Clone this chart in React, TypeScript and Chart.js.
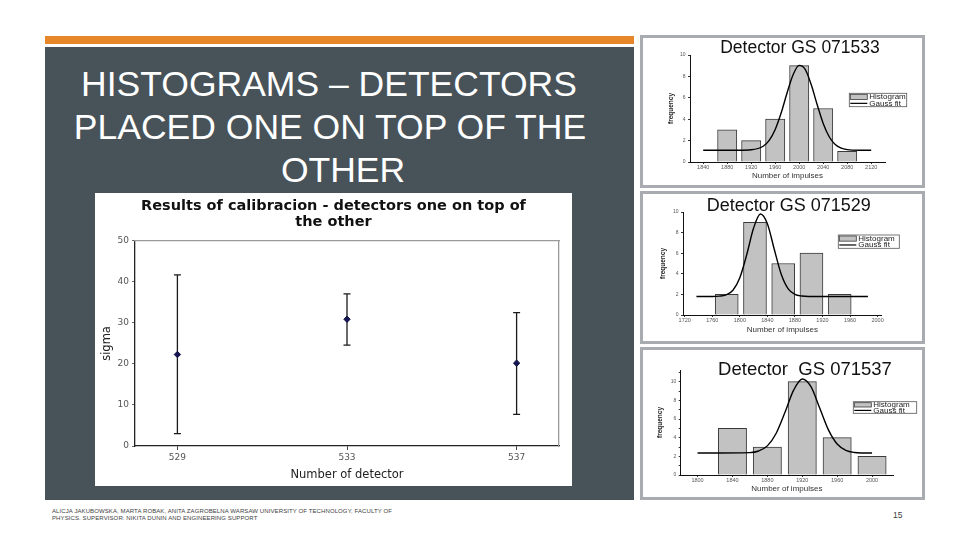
import React, { useEffect, useRef } from "react";
import { Chart, registerables } from "chart.js";

Chart.register(...registerables);

// ---------------- Main chart data ----------------
const mainTitleLines = ["Results of calibracion - detectors one on top of", "the other"];
const detectorNumbers = [529, 533, 537];
const sigmaValues = [22.3, 30.9, 20.2];
const sigmaLower = [3.0, 24.6, 7.7];
const sigmaUpper = [41.7, 37.1, 32.5];
const sigmaTicks = [0, 10, 20, 30, 40, 50];

// ---------------- Histogram 1 (GS 071533) ----------------
const h1Title = "Detector GS 071533";
const h1BinCenters = [1880, 1920, 1960, 2000, 2040, 2080];
const h1Counts = [3, 2, 4, 9, 5, 1];
const h1FitX = [1840, 1900, 1920, 1940, 1950, 1960, 1970, 1980, 1990, 2000, 2010, 2020, 2030, 2040, 2050, 2060, 2070, 2080, 2100, 2120];
const h1FitY = [1.1, 1.1, 1.14, 1.47, 2.02, 3.04, 4.6, 6.5, 8.18, 9.03, 8.66, 7.24, 5.35, 3.6, 2.36, 1.64, 1.3, 1.16, 1.1, 1.1];
const h1XTicks = [1840, 1880, 1920, 1960, 2000, 2040, 2080, 2120];
const h1YTicks = [0, 2, 4, 6, 8, 10];

// ---------------- Histogram 2 (GS 071529) ----------------
const h2Title = "Detector GS 071529";
const h2BinCenters = [1781, 1822, 1863, 1904, 1945];
const h2Counts = [2, 9, 5, 6, 2];
const h2FitX = [1737, 1760, 1770, 1780, 1790, 1800, 1810, 1820, 1830, 1840, 1850, 1860, 1870, 1880, 1890, 1900, 1986];
const h2FitY = [1.8, 1.8, 1.83, 1.95, 2.4, 3.62, 5.85, 8.44, 9.8, 8.86, 6.38, 3.98, 2.56, 2.0, 1.84, 1.8, 1.8];
const h2XTicks = [1720, 1760, 1800, 1840, 1880, 1920, 1960, 2000];
const h2YTicks = [0, 2, 4, 6, 8, 10];

// ---------------- Histogram 3 (GS 071537) ----------------
const h3Title = "Detector  GS 071537";
const h3BinCenters = [1840, 1880, 1920, 1960, 2000];
const h3Counts = [5, 3, 10, 4, 2];
const h3FitX = [1800, 1860, 1870, 1880, 1890, 1900, 1910, 1920, 1930, 1940, 1950, 1960, 1970, 1980, 1990, 2000];
const h3FitY = [2.35, 2.4, 2.57, 3.12, 4.45, 6.67, 9.07, 10.29, 9.46, 7.17, 4.83, 3.32, 2.64, 2.41, 2.36, 2.35];
const h3XTicks = [1800, 1840, 1880, 1920, 1960, 2000];
const h3YTicks = [0, 1, 2, 3, 4, 5, 6, 7, 8, 9, 10, 11];
const h3YLabelled = [0, 2, 4, 6, 8, 10];

const histLabel = "Histogram";
const fitLabel = "Gauss fit";

const SANS = '"Liberation Sans", Arial, sans-serif';
const DEJAVU = '"DejaVu Sans", Verdana, sans-serif';

// ---------------- plugins ----------------
const errorBarPlugin = {
  id: "errorBars",
  beforeDatasetsDraw(chart: any, _a: any, o: any) {
    const { ctx } = chart;
    const xs = chart.scales.x;
    const ys = chart.scales.y;
    const pts = chart.data.datasets[0].data;
    ctx.save();
    ctx.strokeStyle = o.color;
    ctx.lineWidth = o.width;
    pts.forEach((p: any, i: number) => {
      const x = xs.getPixelForValue(p.x);
      const yl = ys.getPixelForValue(o.low[i]);
      const yh = ys.getPixelForValue(o.high[i]);
      ctx.beginPath();
      ctx.moveTo(x, yl);
      ctx.lineTo(x, yh);
      ctx.moveTo(x - o.cap, yl);
      ctx.lineTo(x + o.cap, yl);
      ctx.moveTo(x - o.cap, yh);
      ctx.lineTo(x + o.cap, yh);
      ctx.stroke();
    });
    ctx.restore();
  },
};

const histDecorPlugin = {
  id: "histDecor",
  afterDraw(chart: any, _a: any, o: any) {
    const { ctx } = chart;
    ctx.save();
    ctx.fillStyle = "#111";
    ctx.font = `${o.titleSize}px ${SANS}`;
    ctx.textAlign = "center";
    ctx.textBaseline = "middle";
    ctx.fillText(o.title, o.titleX, o.titleY);
    const L = o.legend;
    const ds = chart.data.datasets;
    const barDs = ds.find((d: any) => d.type === "bar");
    const lineDs = ds.find((d: any) => d.type === "line");
    ctx.strokeStyle = "#555";
    ctx.lineWidth = 0.8;
    ctx.strokeRect(L.x, L.y, L.w, L.h);
    const sw = 17;
    const half = L.h / 2;
    ctx.fillStyle = barDs.backgroundColor;
    ctx.fillRect(L.x + 1, L.y + 1, sw, half - 1.5);
    ctx.strokeStyle = barDs.borderColor;
    ctx.strokeRect(L.x + 1, L.y + 1, sw, half - 1.5);
    ctx.strokeStyle = lineDs.borderColor;
    ctx.lineWidth = 1.2;
    ctx.beginPath();
    ctx.moveTo(L.x + 1, L.y + half + half / 2);
    ctx.lineTo(L.x + 1 + sw, L.y + half + half / 2);
    ctx.stroke();
    ctx.fillStyle = "#222";
    ctx.font = `8px ${SANS}`;
    ctx.textAlign = "left";
    ctx.fillText(barDs.label, L.x + sw + 3, L.y + half / 2 + 0.5);
    ctx.fillText(lineDs.label, L.x + sw + 3, L.y + half + half / 2);
    ctx.restore();
  },
};

// ---------------- configs ----------------
function mainConfig(): any {
  return {
    type: "scatter",
    data: {
      datasets: [
        {
          label: "sigma",
          data: detectorNumbers.map((d, i) => ({ x: d, y: sigmaValues[i] })),
          pointStyle: "rectRot",
          pointRadius: 3.2,
          backgroundColor: "#15154f",
          borderColor: "#15154f",
          borderWidth: 1,
        },
      ],
    },
    plugins: [errorBarPlugin],
    options: {
      animation: false,
      responsive: false,
      devicePixelRatio: 1,
      layout: { padding: 0 },
      plugins: {
        legend: { display: false },
        tooltip: { enabled: false },
        title: {
          display: true,
          text: mainTitleLines,
          color: "#111",
          font: { family: DEJAVU, size: 14.5, weight: "bold", lineHeight: 1.1 },
          padding: { top: 5, bottom: 11 },
        },
        errorBars: { low: sigmaLower, high: sigmaUpper, color: "#1a1a1a", width: 1.3, cap: 3.5 },
      },
      scales: {
        x: {
          type: "linear",
          position: "bottom",
          min: 528,
          max: 538,
          afterBuildTicks: (s: any) => {
            s.ticks = detectorNumbers.map((v) => ({ value: v }));
          },
          afterFit: (s: any) => {
            s.height = 40;
          },
          grid: { drawOnChartArea: false, drawTicks: true, tickLength: 4, color: "#444", lineWidth: 1 },
          border: { display: true, color: "#222", width: 1.3 },
          ticks: { color: "#555", font: { family: DEJAVU, size: 9 }, padding: 2.6, callback: (v: any) => String(v) },
          title: {
            display: true,
            text: "Number of detector",
            color: "#222",
            font: { family: DEJAVU, size: 11.5 },
            padding: { top: 0, bottom: 4.1 },
          },
        },
        y: {
          type: "linear",
          position: "left",
          min: 0,
          max: 50,
          afterBuildTicks: (s: any) => {
            s.ticks = sigmaTicks.map((v) => ({ value: v }));
          },
          afterFit: (s: any) => {
            s.width = 40;
          },
          grid: { drawOnChartArea: false, drawTicks: true, tickLength: 3, color: "#666", lineWidth: 1 },
          border: { display: true, color: "#222", width: 1.3 },
          ticks: { color: "#555", font: { family: DEJAVU, size: 9 }, padding: 3, callback: (v: any) => String(v) },
          title: {
            display: true,
            text: "sigma",
            color: "#222",
            font: { family: DEJAVU, size: 11.5 },
            padding: { top: 5.4, bottom: 0 },
          },
        },
        x2: {
          type: "linear",
          position: "top",
          min: 528,
          max: 538,
          afterFit: (s: any) => {
            s.height = 0;
          },
          grid: { drawOnChartArea: false, drawTicks: false },
          border: { display: true, color: "#9a9a9a", width: 1.3 },
          ticks: { display: false },
        },
        y2: {
          type: "linear",
          position: "right",
          min: 0,
          max: 50,
          afterFit: (s: any) => {
            s.width = 13;
          },
          grid: { drawOnChartArea: false, drawTicks: false },
          border: { display: true, color: "#9a9a9a", width: 1.3 },
          ticks: { display: false },
        },
      },
    },
  };
}

function histConfig(p: any): any {
  return {
    type: "bar",
    data: {
      datasets: [
        {
          type: "line",
          label: fitLabel,
          data: p.fitX.map((x: number, i: number) => ({ x, y: p.fitY[i] })),
          borderColor: "#000",
          borderWidth: 1.4,
          pointRadius: 0,
          cubicInterpolationMode: "monotone",
          fill: false,
          order: 0,
        },
        {
          type: "bar",
          label: histLabel,
          data: p.bins.map((x: number, i: number) => ({ x, y: p.counts[i] })),
          backgroundColor: "#c2c2c2",
          borderColor: "#3a3a3a",
          borderWidth: 1,
          barThickness: p.barPx,
          order: 1,
        },
      ],
    },
    plugins: [histDecorPlugin],
    options: {
      animation: false,
      responsive: false,
      devicePixelRatio: 1,
      layout: { padding: { left: 0, top: p.area.top, right: p.w - p.area.right, bottom: 0 } },
      plugins: {
        legend: { display: false },
        tooltip: { enabled: false },
        title: { display: false },
        histDecor: {
          title: p.title,
          titleX: p.titleX,
          titleY: p.titleY,
          titleSize: p.titleSize,
          legend: p.legend,
        },
      },
      scales: {
        x: {
          type: "linear",
          min: p.xMin,
          max: p.xMax,
          offset: false,
          afterBuildTicks: (s: any) => {
            s.ticks = p.xTicks.map((v: number) => ({ value: v }));
          },
          afterFit: (s: any) => {
            s.height = p.h - p.area.bottom;
          },
          grid: { offset: false, drawOnChartArea: false, drawTicks: true, tickLength: 2, color: "#333" },
          border: { display: true, color: "#111", width: 1 },
          ticks: {
            color: "#555",
            font: { family: SANS, size: 5.5 },
            padding: 0.5,
            maxRotation: 0,
            autoSkip: false,
            callback: (v: any) => String(v),
          },
          title: {
            display: true,
            text: "Number of impulses",
            color: "#333",
            font: { family: SANS, size: 8 },
            padding: { top: 0, bottom: p.xTitlePad },
          },
        },
        y: {
          type: "linear",
          min: 0,
          max: p.yMax,
          afterBuildTicks: (s: any) => {
            s.ticks = p.yTicks.map((v: number) => ({ value: v }));
          },
          afterFit: (s: any) => {
            s.width = p.area.left;
          },
          grid: { drawOnChartArea: false, drawTicks: true, tickLength: 2, color: "#333" },
          border: { display: true, color: "#111", width: 1 },
          ticks: {
            color: "#555",
            font: { family: SANS, size: 5 },
            padding: 2.5,
            autoSkip: false,
            callback: (v: any) => (p.yLabelled.includes(v) ? String(v) : ""),
          },
          title: {
            display: true,
            text: "frequency",
            color: "#222",
            font: { family: SANS, size: 6.5, weight: "bold" },
            padding: { top: p.yTitlePad, bottom: 0 },
          },
        },
      },
    },
  };
}

const HIST_W = 279;
const HIST_H = 147;

const hist1Params = {
  title: h1Title,
  bins: h1BinCenters,
  counts: h1Counts,
  fitX: h1FitX,
  fitY: h1FitY,
  xTicks: h1XTicks,
  yTicks: h1YTicks,
  yLabelled: h1YTicks,
  xMin: 1818,
  xMax: 2143,
  yMax: 10,
  w: HIST_W,
  h: HIST_H,
  area: { left: 47, top: 17, right: 242, bottom: 124 },
  barPx: 19.3,
  titleX: 157,
  titleY: 10,
  titleSize: 17.5,
  legend: { x: 206.3, y: 55.3, w: 57.4, h: 13.4 },
  xTitlePad: 4.5,
  yTitlePad: 24.7,
};

const hist2Params = {
  title: h2Title,
  bins: h2BinCenters,
  counts: h2Counts,
  fitX: h2FitX,
  fitY: h2FitY,
  xTicks: h2XTicks,
  yTicks: h2YTicks,
  yLabelled: h2YTicks,
  xMin: 1717.5,
  xMax: 2006,
  yMax: 10,
  w: HIST_W,
  h: HIST_H,
  area: { left: 40, top: 18, right: 238.7, bottom: 121 },
  barPx: 23,
  titleX: 145.8,
  titleY: 12,
  titleSize: 18,
  legend: { x: 195.3, y: 41, w: 61, h: 13.3 },
  xTitlePad: 6.9,
  yTitlePad: 16.4,
};

const hist3Params = {
  title: h3Title,
  bins: h3BinCenters,
  counts: h3Counts,
  fitX: h3FitX,
  fitY: h3FitY,
  xTicks: h3XTicks,
  yTicks: h3YTicks,
  yLabelled: h3YLabelled,
  xMin: 1780.7,
  xMax: 2024,
  yMax: 11.25,
  w: HIST_W,
  h: HIST_H,
  area: { left: 37.7, top: 20, right: 250, bottom: 125 },
  barPx: 28.3,
  titleX: 162,
  titleY: 20,
  titleSize: 18.5,
  legend: { x: 210.3, y: 51.7, w: 63.4, h: 11.6 },
  xTitlePad: 3.9,
  yTitlePad: 13.1,
};

function ChartCanvas({ make, width, height }: { make: () => any; width: number; height: number }) {
  const ref = useRef<HTMLCanvasElement>(null);
  useEffect(() => {
    const chart = new Chart(ref.current as HTMLCanvasElement, make());
    return () => chart.destroy();
  }, []);
  return (
    <canvas
      ref={ref}
      width={width}
      height={height}
      style={{ position: "absolute", left: 0, top: 0, width, height, display: "block" }}
    />
  );
}

function HistBox({ top, params }: { top: number; params: any }) {
  return (
    <div
      style={{
        position: "absolute",
        left: 640,
        top,
        width: 285,
        height: 153,
        boxSizing: "border-box",
        border: "3px solid #a8acb0",
        background: "#fff",
      }}
    >
      <div style={{ position: "relative", width: HIST_W, height: HIST_H }}>
        <ChartCanvas make={() => histConfig(params)} width={HIST_W} height={HIST_H} />
      </div>
    </div>
  );
}

const titleStyle: React.CSSProperties = {
  position: "absolute",
  width: 600,
  textAlign: "center",
  color: "#fff",
  fontFamily: SANS,
  fontSize: 35.5,
  lineHeight: "43px",
  whiteSpace: "nowrap",
};

export default function App() {
  return (
    <div
      style={{
        position: "fixed",
        left: 0,
        top: 0,
        width: 960,
        height: 540,
        background: "#fff",
        overflow: "hidden",
      }}
    >
      <div style={{ position: "absolute", left: 45, top: 36, width: 589, height: 8, background: "#e8862a" }} />
      <div style={{ position: "absolute", left: 45, top: 47, width: 589, height: 453, background: "#475259" }} />
      <div style={{ ...titleStyle, left: 29, top: 63 }}>HISTOGRAMS – DETECTORS</div>
      <div style={{ ...titleStyle, left: 30, top: 106 }}>PLACED ONE ON TOP OF THE</div>
      <div style={{ ...titleStyle, left: 43, top: 149 }}>OTHER</div>

      <div style={{ position: "absolute", left: 95, top: 193, width: 477, height: 293, background: "#fff" }}>
        <ChartCanvas make={mainConfig} width={477} height={293} />
      </div>

      <HistBox top={35} params={hist1Params} />
      <HistBox top={191} params={hist2Params} />
      <HistBox top={347} params={hist3Params} />

      <div
        style={{
          position: "absolute",
          left: 52,
          top: 508,
          fontFamily: SANS,
          fontSize: 6,
          letterSpacing: 0.1,
          lineHeight: "7.3px",
          color: "#404040",
          whiteSpace: "nowrap",
        }}
      >
        ALICJA JAKUBOWSKA, MARTA ROBAK, ANITA ZAGROBELNA WARSAW UNIVERSITY OF TECHNOLOGY, FACULTY OF
        <br />
        PHYSICS. SUPERVISOR: NIKITA DUNIN AND ENGINEERING SUPPORT
      </div>
      <div
        style={{
          position: "absolute",
          left: 893,
          top: 510,
          fontFamily: SANS,
          fontSize: 8.5,
          color: "#404040",
        }}
      >
        15
      </div>
    </div>
  );
}
